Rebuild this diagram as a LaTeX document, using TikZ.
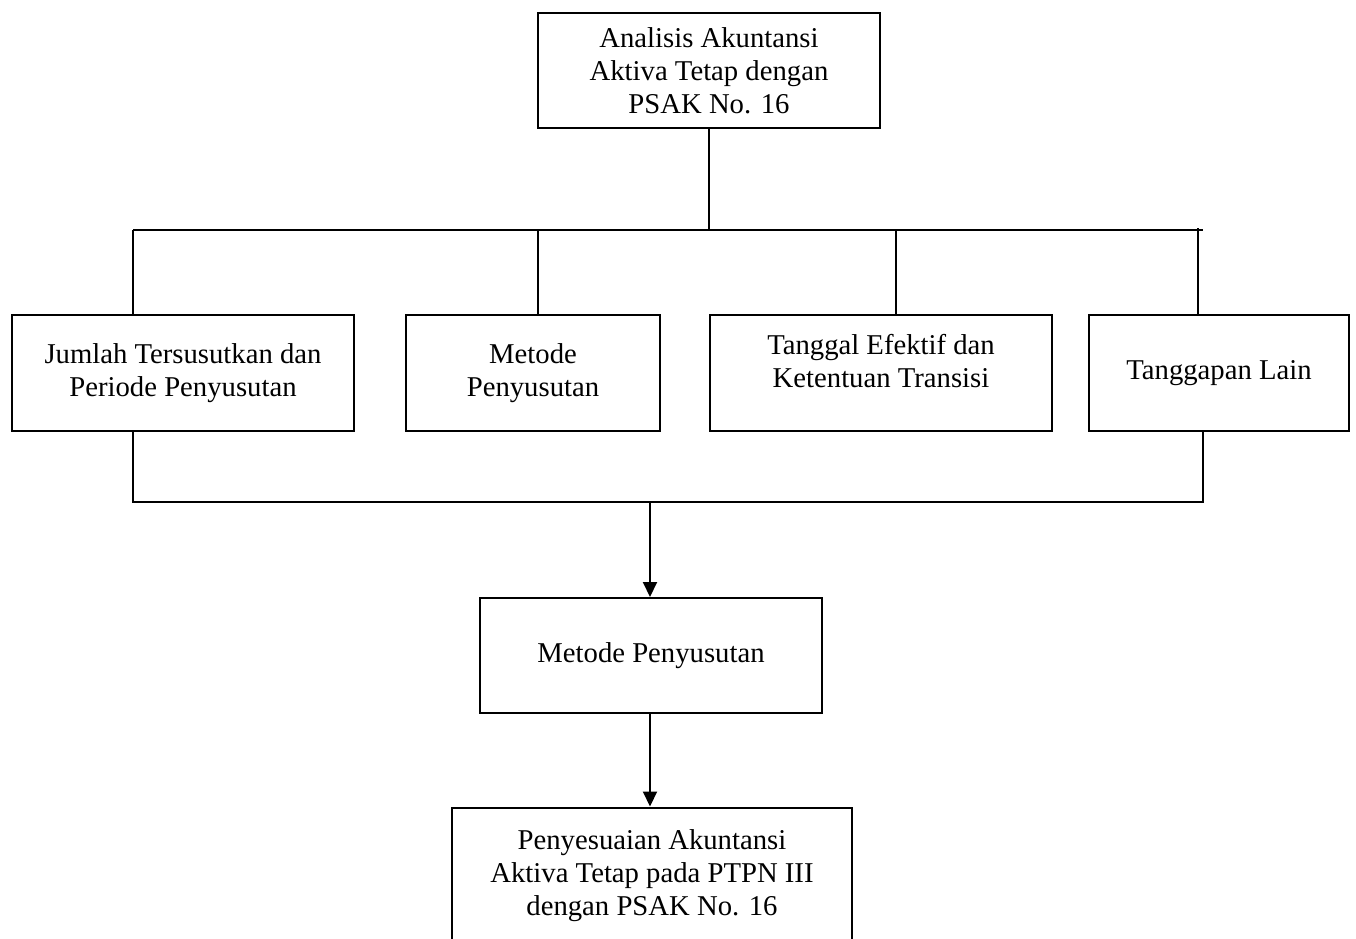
\documentclass[tikz,border=0pt]{standalone}
\usepackage{fontspec}
\setmainfont{Liberation Serif}
\usetikzlibrary{arrows.meta,positioning}

\tikzset{
  box/.style={draw,line width=1pt,align=center,inner sep=0pt,
    minimum width=171pt,minimum height=58pt,
    font=\fontsize{14.35}{16.5}\selectfont},
  link/.style={line width=1pt},
  arr/.style={line width=1pt,-{Triangle[length=7.5pt,width=7pt]}}
}

\begin{document}
\begin{tikzpicture}[x=0.5pt,y=-0.5pt]
\useasboundingbox (0,0) rectangle (1356,938);

% Boxes
\node[box,minimum height=57.5pt] (analisis) at (709,70.5) {Analisis Akuntansi\\Aktiva Tetap dengan\\PSAK No. 16};
\node[box] (jumlah) at (183,373) {Jumlah Tersusutkan dan\\Periode Penyusutan};
\node[box,minimum width=127pt] (metode) at (533,373) {Metode\\Penyusutan};
\node[box] (tanggal) at (881,373) {Tanggal Efektif dan\\Ketentuan Transisi\\[-4.5pt]\mbox{}};
\node[box,minimum width=130pt] (tanggapan) at (1219,373) {Tanggapan Lain};
\node[box,minimum height=57.5pt] (mpenyusutan) at (651,655.5) {Metode Penyusutan};
\node[box,minimum width=200pt,minimum height=68.5pt] (penyesuaian) at (652,876) {Penyesuaian Akuntansi\\Aktiva Tetap pada PTPN III\\dengan PSAK No. 16};

% Bus points
\coordinate (topl) at (133,230);
\coordinate (topr) at (1203,230);
\coordinate (drop2) at (538,230);
\coordinate (drop3) at (896,230);
\coordinate (drop4) at (1198,230);
\coordinate (botl) at (133,502);
\coordinate (botr) at (1203,502);
\coordinate (botm) at (650,502);

% Lines
\draw[link] (analisis.south) -- (analisis.south |- topl);
\draw[link] (topl) -- (topr);
\draw[link] (topl) -- (topl |- jumlah.north);
\draw[link] (drop2) -- (drop2 |- metode.north);
\draw[link] (drop3) -- (drop3 |- tanggal.north);
\draw[link] ([yshift=1pt]drop4) -- (drop4 |- tanggapan.north);
\draw[link] (jumlah.south -| botl) -- (botl) -- (botr) -- (botr |- tanggapan.south);

% Arrows
\draw[arr] (botm) -- (botm |- mpenyusutan.north);
\draw[arr] (mpenyusutan.south -| botm) -- (botm |- penyesuaian.north);
\end{tikzpicture}
\end{document}
